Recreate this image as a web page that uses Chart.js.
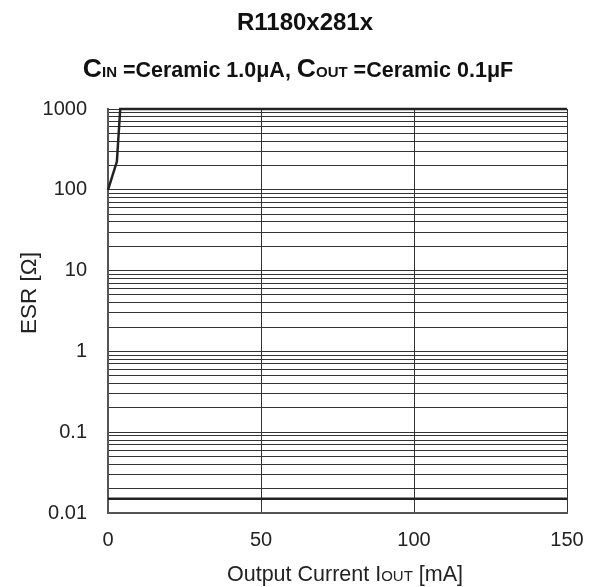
<!DOCTYPE html>
<html>
<head>
<meta charset="utf-8">
<script src="https://cdn.jsdelivr.net/npm/chart.js@4"></script>
<style>
  html, body { margin: 0; padding: 0; background: #fff; }
  #wrap { width: 594px; height: 587px; }
</style>
</head>
<body>
<div id="wrap"><canvas id="esrChart" width="594" height="587"></canvas></div>
<script>
// chart values
const upperX = [0, 2.9, 4, 150];
const upperY = [100, 224, 1000, 1000];
const lowerX = [0, 150];
const lowerY = [0.015, 0.015];
const xTicks = [0, 50, 100, 150];
const yMajor = [0.01, 0.1, 1, 10, 100, 1000];

const FONT = "'Liberation Sans', Arial, sans-serif";
const ink = '#222';

// every 1..9 x 10^n line between 0.01 and 1000
const yGrid = [];
for (let e = -2; e < 3; e++) {
    for (let m = 1; m < 10; m++) yGrid.push(+(m * Math.pow(10, e)).toPrecision(2));
}
yGrid.push(1000);

// draw runs of text with different sizes centred at x
function drawRuns(ctx, runs, cx, baseline) {
    let total = 0;
    runs.forEach(r => {
        ctx.font = r.font;
        r.w = ctx.measureText(r.text).width;
        total += r.w;
    });
    let x = cx - total / 2;
    runs.forEach(r => {
        ctx.font = r.font;
        ctx.fillText(r.text, x, baseline);
        x += r.w;
    });
}

const titlesPlugin = {
    id: 'titles',
    afterDraw(chart) {
        const ctx = chart.ctx;
        ctx.save();
        ctx.fillStyle = '#111';
        ctx.textAlign = 'left';
        ctx.textBaseline = 'alphabetic';
        drawRuns(ctx, [{ text: 'R1180x281x', font: 'bold 24px ' + FONT }], 305, 30);
        drawRuns(ctx, [
            { text: 'C', font: 'bold 26.5px ' + FONT },
            { text: 'IN', font: 'bold 15px ' + FONT },
            { text: ' =Ceramic 1.0\u03bcA, ', font: 'bold 21.5px ' + FONT },
            { text: 'C', font: 'bold 26.5px ' + FONT },
            { text: 'OUT', font: 'bold 15px ' + FONT },
            { text: ' =Ceramic 0.1\u03bcF', font: 'bold 21.5px ' + FONT }
        ], 298, 77);
        ctx.fillStyle = ink;
        drawRuns(ctx, [
            { text: 'Output Current I', font: '21.5px ' + FONT },
            { text: 'OUT', font: '15px ' + FONT },
            { text: ' [mA]', font: '21.5px ' + FONT }
        ], 345, 581);
        ctx.translate(36, 293);
        ctx.rotate(-Math.PI / 2);
        drawRuns(ctx, [{ text: 'ESR [\u03a9]', font: '22.5px ' + FONT }], 0, 0);
        ctx.restore();
    }
};

new Chart(document.getElementById('esrChart'), {
    type: 'scatter',
    data: {
        datasets: [
            {
                data: upperX.map((x, i) => ({ x: x, y: upperY[i] })),
                showLine: true,
                borderColor: ink,
                borderWidth: 2.5,
                pointRadius: 0,
                tension: 0,
                clip: false
            },
            {
                data: lowerX.map((x, i) => ({ x: x, y: lowerY[i] })),
                showLine: true,
                borderColor: ink,
                borderWidth: 2.5,
                pointRadius: 0,
                clip: false
            }
        ]
    },
    options: {
        responsive: false,
        animation: false,
        layout: { padding: { top: 109, right: 27, left: 0, bottom: 0 } },
        plugins: {
            legend: { display: false },
            tooltip: { enabled: false }
        },
        scales: {
            x: {
                type: 'linear',
                min: 0,
                max: 150,
                afterBuildTicks: scale => { scale.ticks = xTicks.map(v => ({ value: v })); },
                afterFit: scale => {
                    scale.height = 587 - 513;
                    scale.paddingLeft = 0;
                    scale.paddingRight = 0;
                },
                grid: { color: '#333', lineWidth: 1, drawTicks: false },
                border: { color: '#555', width: 2 },
                ticks: {
                    padding: 15,
                    color: ink,
                    font: { family: FONT, size: 20 }
                }
            },
            y: {
                type: 'logarithmic',
                min: 0.01,
                max: 1000,
                afterBuildTicks: scale => { scale.ticks = yGrid.map(v => ({ value: v })); },
                afterFit: scale => {
                    scale.width = 108;
                    scale.paddingTop = 0;
                    scale.paddingBottom = 0;
                },
                grid: { color: '#333', lineWidth: 1, drawTicks: false },
                border: { color: '#555', width: 2 },
                ticks: {
                    autoSkip: false,
                    padding: 21,
                    color: ink,
                    font: { family: FONT, size: 20 },
                    callback: v => yMajor.indexOf(v) >= 0 ? String(v) : ''
                }
            }
        }
    },
    plugins: [titlesPlugin]
});
</script>
</body>
</html>
